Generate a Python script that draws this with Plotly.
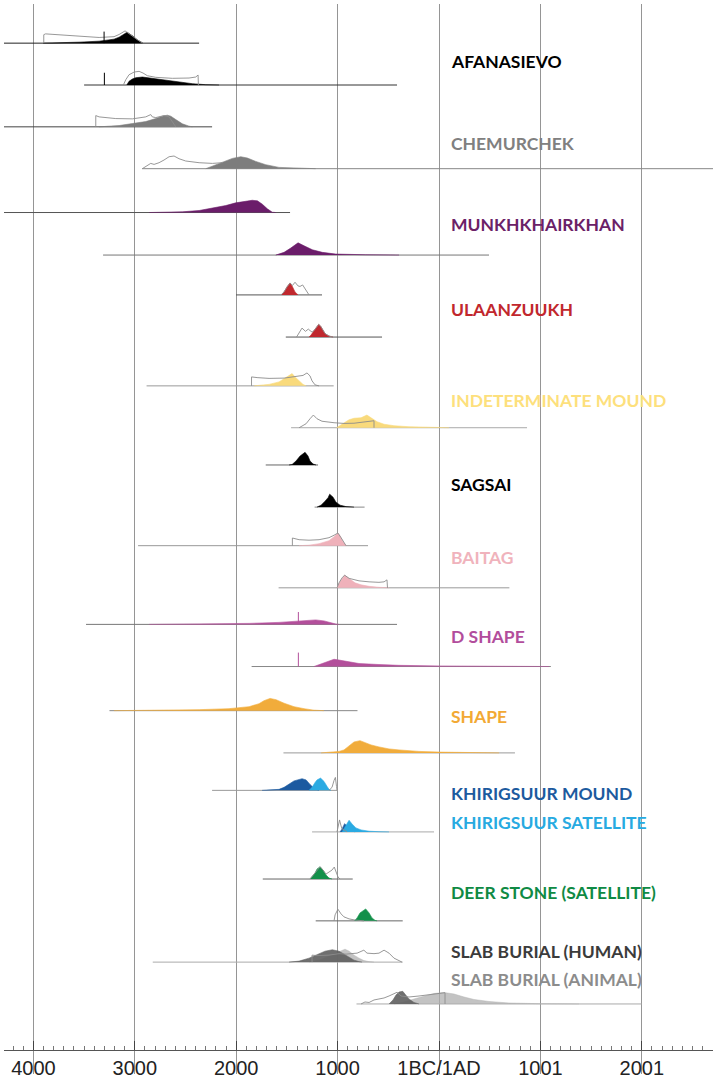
import plotly.graph_objects as go

# ---------------- axis ----------------
TICK_YEARS = [-4000, -3000, -2000, -1000, 0, 1000, 2000]
TICK_LABELS = ["4000", "3000", "2000", "1000", "1BC/1AD", "1001", "2001"]

# ---------------- group labels ----------------
LABELS = ["AFANASIEVO", "CHEMURCHEK", "MUNKHKHAIRKHAN", "ULAANZUUKH",
          "INDETERMINATE MOUND", "SAGSAI", "BAITAG", "D SHAPE", "SHAPE",
          "KHIRIGSUUR MOUND", "KHIRIGSUUR SATELLITE", "DEER STONE (SATELLITE)",
          "SLAB BURIAL (HUMAN)", "SLAB BURIAL (ANIMAL)"]
LABEL_COLORS = ["#000000", "#808080", "#6b2167", "#c1272d", "#fde07c", "#000000",
                "#f0b3bc", "#b24d9c", "#f2a934", "#1c5a9e", "#27aae1", "#0f8a44",
                "#3b3b3b", "#8c8c8c"]

# ---------------- baselines of each boundary row (calendar years, BC negative) ----------------
BASE_FROM = [-4290, -3500, -4290, -2928, -4290, -3313, -2002, -1511, -2884, -1459, -1709, -1227,
             -2968, -1582, -3481, -1848, -3250, -1534, -2238, -1252, -1738, -1216, -2823, -814]
BASE_TO = [-2366, -414, -2238, 2702, -1469, 493, -1154, -562, -1039, 868, -1193, -734,
           -700, 694, -414, 1103, -804, 749, -997, -49, -851, -358, -358, 1998]

# ---------------- probability distributions (year, relative probability) ----------------
# Afanasievo start
AFA1_YR = [-3905, -3747, -3550, -3352, -3254, -3205, -3155, -3116, -3076, -3047, -3017, -2978, -2948, -2919]
AFA1_P = [0, 0.3, 1, 2, 3, 4, 6, 8.5, 11, 9, 7, 3.5, 1.5, 0]
AFA1_PRIOR_YR = [-3898, -3898, -3880, -3648, -3352, -3205, -3155, -3096, -3066, -3047, -3017, -2978, -2948, -2919]
AFA1_PRIOR_P = [0, 8.5, 9.3, 7.5, 5.7, 6.5, 8.7, 12.3, 10, 8.5, 6.5, 3.5, 1.5, 0]
AFA1_SPIKE = [-3303, 11.6]
# Afanasievo end
AFA2_YR = [-3079, -3057, -3024, -2991, -2925, -2827, -2695, -2564, -2432, -2300, -2169]
AFA2_P = [0, 3.7, 6, 7.3, 8, 6.7, 4.7, 2.7, 1.3, 0.3, 0]
AFA2_PRIOR_YR = [-3113, -3089, -3057, -3007, -2958, -2919, -2876, -2793, -2630, -2465, -2399, -2376, -2373]
AFA2_PRIOR_P = [0, 5.3, 10.3, 13, 13.7, 12, 9.3, 7.7, 6.7, 7, 8, 10, 0]
AFA2_SPIKE = [-3300, 12.3]
# Chemurchek start
CHE1_YR = [-3352, -3155, -3024, -2892, -2793, -2728, -2679, -2645, -2596, -2531, -2465, -2432]
CHE1_P = [0, 1.3, 3.3, 5.3, 8.3, 10.7, 11.7, 10.7, 7.3, 3, 0.7, 0]
CHE1_PRIOR_YR = [-3385, -3385, -3352, -3188, -3024, -2892, -2843, -2827, -2793, -2741, -2712, -2662, -2630, -2596]
CHE1_PRIOR_P = [0, 11.3, 10, 8.3, 8, 10, 12.3, 10, 9.3, 10.5, 11.3, 10, 5.7, 0]
# Chemurchek end
CHE2_YR = [-2300, -2235, -2169, -2103, -2038, -1955, -1890, -1807, -1709, -1578, -1380, -1216]
CHE2_P = [0, 2.7, 5.3, 8, 10.3, 12, 10.7, 7.3, 4, 1.3, 0.3, 0]
CHE2_PRIOR_YR = [-2926, -2876, -2843, -2810, -2761, -2712, -2662, -2613, -2564, -2498, -2366, -2235, -2137]
CHE2_PRIOR_P = [0, 2.7, 5.3, 4.3, 6, 8.7, 12, 12.7, 10, 7.7, 6, 5.3, 6]
# Munkhkhairkhan start / end
MUN1_YR = [-2859, -2531, -2366, -2235, -2103, -2005, -1906, -1841, -1791, -1742, -1693, -1644, -1610]
MUN1_P = [0, 0.7, 2, 4.3, 7, 9.7, 11.7, 12.3, 11.7, 8.3, 3.7, 0.3, 0]
MUN2_YR = [-1610, -1528, -1462, -1390, -1331, -1249, -1151, -1019, -723, -394]
MUN2_P = [0, 2.7, 7, 12.3, 9.3, 5.3, 2.7, 1, 0.3, 0]
# Ulaanzuukh start / end
ULA1_YR = [-1558, -1528, -1499, -1469, -1449, -1420, -1390]
ULA1_P = [0, 3, 8, 12, 9, 3, 0]
ULA1_PRIOR_YR = [-1558, -1528, -1499, -1469, -1445, -1420, -1390, -1371, -1345, -1321, -1302, -1282]
ULA1_PRIOR_P = [0, 3, 8, 12, 9.5, 12.7, 9, 8.5, 10, 6, 2, 0]
ULA2_YR = [-1282, -1262, -1232, -1203, -1187, -1168, -1153, -1124, -1085, -1045]
ULA2_P = [0, 2, 6.5, 11, 12.7, 11, 8, 3.5, 1, 0]
ULA2_PRIOR_YR = [-1405, -1380, -1351, -1317, -1289, -1272, -1252, -1232, -1203, -1187, -1168, -1153, -1124, -1085, -1045]
ULA2_PRIOR_P = [0, 4, 9, 5.7, 8, 6.5, 5, 6.5, 11, 12.7, 11, 8, 3.5, 1, 0]
# Indeterminate mound start / end
IND1_YR = [-1824, -1676, -1578, -1509, -1469, -1449, -1420, -1380, -1341, -1311]
IND1_P = [0, 1.5, 4, 8, 11, 12.3, 9, 5, 1.5, 0]
IND1_PRIOR_YR = [-1849, -1849, -1794, -1676, -1528, -1430, -1380, -1341, -1302, -1272, -1252, -1222, -1183]
IND1_PRIOR_P = [0, 9, 8.3, 7.5, 7.8, 9, 10, 10.5, 13, 10, 5, 1, 0]
IND2_YR = [-1011, -937, -887, -838, -769, -711, -670, -611, -542, -444, -296, -99, 99]
IND2_P = [0, 5, 8, 9.5, 10, 12.7, 10, 6, 3.5, 2, 1, 0.5, 0]
IND2_PRIOR_YR = [-1380, -1351, -1311, -1272, -1239, -1203, -1154, -1035, -937, -838, -740, -641, -641]
IND2_PRIOR_P = [0, 2, 4, 9, 12.7, 9, 6.5, 5, 4.3, 4.5, 5.5, 7, 0]
# Sagsai start / end
SAG1_YR = [-1479, -1449, -1410, -1370, -1321, -1292, -1272, -1242, -1213]
SAG1_P = [0, 0.5, 4, 9, 12.7, 9, 4, 1, 0]
SAG2_YR = [-1203, -1163, -1124, -1094, -1078, -1045, -1016, -976, -917, -838]
SAG2_P = [0, 2, 6, 9.5, 13, 10, 5, 2, 0.5, 0]
# Baitag start / end
BAI1_YR = [-1380, -1282, -1183, -1085, -1035, -997, -976, -947, -917]
BAI1_P = [0, 0.5, 2, 5, 9, 12.7, 10, 4, 0]
BAI1_PRIOR_YR = [-1446, -1446, -1380, -1282, -1183, -1085, -1035, -997, -966, -937, -917]
BAI1_PRIOR_P = [0, 7.7, 6, 5.5, 6, 8, 10.5, 12.7, 8, 3, 0]
BAI2_YR = [-1006, -976, -931, -887, -828, -769, -690, -592, -493]
BAI2_P = [0, 6, 12.7, 9, 5, 3, 1.5, 0.5, 0]
BAI2_PRIOR_YR = [-1006, -986, -956, -931, -887, -789, -690, -592, -542, -513, -508]
BAI2_PRIOR_P = [0, 5, 10, 12.7, 9.5, 7, 6, 5.5, 6, 8, 0]
# D shape start / end
DSH1_YR = [-2859, -2366, -1873, -1578, -1380, -1282, -1216, -1134, -1065, -1016, -986]
DSH1_P = [0, 0.3, 1, 2, 3.5, 4.3, 4.5, 3.5, 1.5, 0.3, 0]
DSH1_SPIKE = [-1387, 12.4]
DSH2_YR = [-1233, -1183, -1134, -1085, -1035, -986, -887, -789, -592, -394, 0, 592, 1085]
DSH2_P = [0, 2, 4, 6, 7.3, 6.5, 4.5, 3, 2, 1.2, 0.6, 0.3, 0]
DSH2_SPIKE = [-1387, 14]
# Shape start / end
SHA1_YR = [-3205, -2859, -2366, -2071, -1873, -1775, -1726, -1666, -1607, -1528, -1430, -1331, -1233, -1134]
SHA1_P = [0, 0.3, 1, 2, 4, 7, 10, 12.3, 11, 7.5, 4, 2, 0.5, 0]
SHA2_YR = [-1163, -1085, -986, -937, -887, -838, -779, -730, -670, -592, -493, -394, -197, 0, 296, 592]
SHA2_P = [0, 0.5, 1.5, 3, 7, 11, 12.3, 10.5, 8, 6, 4, 3, 1.5, 0.8, 0.3, 0]
# Khirigsuur mound (dark) and satellite (light), start row
KHM1_YR = [-1745, -1578, -1528, -1479, -1430, -1351, -1311, -1272, -1232, -1183]
KHM1_P = [0, 1, 3, 6, 9.5, 11.7, 10.5, 6, 2, 0]
KHS1_YR = [-1282, -1252, -1222, -1203, -1168, -1134, -1104, -1085, -1065]
KHS1_P = [0, 3, 8, 10.5, 12.3, 9, 4, 1, 0]
KH1_PRIOR_YR = [-1085, -1055, -1035, -1022, -1011, -1006]
KH1_PRIOR_P = [0, 3, 10, 13, 4, 0]
# Khirigsuur end row
KHM2_YR = [-976, -956, -931, -907, -868, -828]
KHM2_P = [0, 3, 8.3, 6, 2, 0]
KHS2_YR = [-956, -927, -907, -887, -858, -819, -769, -690, -592, -493]
KHS2_P = [0, 5, 9, 11.7, 8, 4, 2, 0.7, 0.2, 0]
KH2_PRIOR_YR = [-1006, -991, -981, -966, -956, -937, -907]
KH2_PRIOR_P = [0, 8, 12, 6, 3, 2, 0]
# Deer stone start / end
DEE1_YR = [-1272, -1252, -1222, -1203, -1173, -1144, -1114, -1085, -1055]
DEE1_P = [0, 2, 6, 10, 12.3, 9, 4, 1, 0]
DEE1_PRIOR_YR = [-1272, -1222, -1173, -1144, -1114, -1085, -1055, -1033, -1016, -996, -976]
DEE1_PRIOR_P = [0, 6, 12.3, 9, 5, 7, 9, 12, 8, 2, 0]
DEE2_YR = [-833, -808, -779, -723, -690, -661, -631, -611]
DEE2_P = [0, 3, 8, 12, 8, 3, 0.5, 0]
DEE2_PRIOR_YR = [-1035, -1025, -997, -966, -937, -887, -838, -789, -740]
DEE2_PRIOR_P = [0, 6, 11.7, 7, 4, 2, 1, 0.5, 0]
# Slab burial human (dark) / animal (light), start row
SLH1_YR = [-1479, -1380, -1282, -1232, -1183, -1124, -1052, -986, -937, -887, -838, -789, -759]
SLH1_P = [0, 1, 4, 6, 8, 11, 12.4, 11, 8, 5, 2, 0.5, 0]
SLA1_YR = [-1282, -1183, -1085, -986, -927, -887, -838, -789, -740, -690, -641]
SLA1_P = [0, 2, 6, 10, 13, 11, 7, 4, 1.5, 0.5, 0]
SL1_PRIOR_YR = [-1252, -1252, -1203, -1085, -986, -917, -868, -808, -741, -710, -641, -592, -542, -493, -444, -394, -365]
SL1_PRIOR_P = [0, 7, 6.5, 7, 8.5, 8, 8.5, 9, 12, 9, 8.5, 9, 12, 9, 4, 1, 0]
# Slab burial end row
SLH2_YR = [-493, -454, -424, -394, -358, -325, -296, -247, -197]
SLH2_P = [0, 4, 9, 12, 12.7, 9, 5, 1.5, 0]
SLA2_YR = [-444, -345, -247, -148, -49, 49, 148, 247, 345, 493, 690, 986, 1380]
SLA2_P = [0, 2, 5, 8, 10.5, 11.5, 10, 7, 4.5, 2.5, 1, 0.3, 0]
SL2_PRIOR_YR = [-769, -730, -690, -641, -592, -542, -493, -414, -375, -296, -197, -99, 0, 59, 59]
SL2_PRIOR_P = [0, 2, 1.5, 4, 5, 6, 8, 11.7, 8, 7, 8, 9.5, 10.5, 11.3, 0]

# ---------------- layout constants (vertical positions in layout units = screen px) ----------------
ROW_BASE = [43.3, 85.3, 127.3, 169.3, 213.3, 256, 296, 338.3, 387.3, 429.3, 466.7, 509,
            547.7, 590, 626.7, 669, 713.3, 755.7, 793.3, 835, 882.3, 924.3, 965.7, 1007.7]
LABEL_Y = [61.3, 144.2, 225, 310.7, 401.7, 486, 560, 639.3, 719.3, 796.7, 826, 895.7, 955, 982.7]
Y_TOP, Y_BOTTOM, AXIS_Y = 4, 1078, 1054
X_RANGE = [-4290, 2702]
LABEL_X = 100

BLACK = "#000000"
C_CHE = "#7d7d7d"
C_MUN = "#6b1d6a"
C_ULA = "#c0282e"
C_IND = "#f9da7c"
C_BAI = "#efb1ba"
C_DSH = "#b34f9b"
C_SHA = "#f1ac3b"
C_KHM = "#1c5aa0"
C_KHS = "#2aaae2"
C_DEE = "#13904a"
C_SLH = "rgba(95,95,95,0.9)"
C_SLA = "rgba(175,175,175,0.75)"
PRIOR = "#8c8c8c"

BASE_COLORS = ["#222", "#333", "#444", "#888", "#555", "#777", "#555", "#555", "#999", "#aaa",
               "#666", "#888", "#999", "#999", "#777", "#888", "#888", "#999", "#999", "#aaa",
               "#666", "#666", "#aaa", "#aaa"]

# rows: (row index, fills [(yr, p, color)], priors [(yr, p)], spikes [(yr, h, color)])
ROWS = [
    (0, [(AFA1_YR, AFA1_P, BLACK)], [(AFA1_PRIOR_YR, AFA1_PRIOR_P)], [(AFA1_SPIKE, BLACK)]),
    (1, [(AFA2_YR, AFA2_P, BLACK)], [(AFA2_PRIOR_YR, AFA2_PRIOR_P)], [(AFA2_SPIKE, BLACK)]),
    (2, [(CHE1_YR, CHE1_P, C_CHE)], [(CHE1_PRIOR_YR, CHE1_PRIOR_P)], []),
    (3, [(CHE2_YR, CHE2_P, C_CHE)], [(CHE2_PRIOR_YR, CHE2_PRIOR_P)], []),
    (4, [(MUN1_YR, MUN1_P, C_MUN)], [], []),
    (5, [(MUN2_YR, MUN2_P, C_MUN)], [], []),
    (6, [(ULA1_YR, ULA1_P, C_ULA)], [(ULA1_PRIOR_YR, ULA1_PRIOR_P)], []),
    (7, [(ULA2_YR, ULA2_P, C_ULA)], [(ULA2_PRIOR_YR, ULA2_PRIOR_P)], []),
    (8, [(IND1_YR, IND1_P, C_IND)], [(IND1_PRIOR_YR, IND1_PRIOR_P)], []),
    (9, [(IND2_YR, IND2_P, C_IND)], [(IND2_PRIOR_YR, IND2_PRIOR_P)], []),
    (10, [(SAG1_YR, SAG1_P, BLACK)], [], []),
    (11, [(SAG2_YR, SAG2_P, BLACK)], [], []),
    (12, [(BAI1_YR, BAI1_P, C_BAI)], [(BAI1_PRIOR_YR, BAI1_PRIOR_P)], []),
    (13, [(BAI2_YR, BAI2_P, C_BAI)], [(BAI2_PRIOR_YR, BAI2_PRIOR_P)], []),
    (14, [(DSH1_YR, DSH1_P, C_DSH)], [], [(DSH1_SPIKE, C_DSH)]),
    (15, [(DSH2_YR, DSH2_P, C_DSH)], [], [(DSH2_SPIKE, C_DSH)]),
    (16, [(SHA1_YR, SHA1_P, C_SHA)], [], []),
    (17, [(SHA2_YR, SHA2_P, C_SHA)], [], []),
    (18, [(KHM1_YR, KHM1_P, C_KHM), (KHS1_YR, KHS1_P, C_KHS)], [(KH1_PRIOR_YR, KH1_PRIOR_P)], []),
    (19, [(KHM2_YR, KHM2_P, C_KHM), (KHS2_YR, KHS2_P, C_KHS)], [(KH2_PRIOR_YR, KH2_PRIOR_P)], []),
    (20, [(DEE1_YR, DEE1_P, C_DEE)], [(DEE1_PRIOR_YR, DEE1_PRIOR_P)], []),
    (21, [(DEE2_YR, DEE2_P, C_DEE)], [(DEE2_PRIOR_YR, DEE2_PRIOR_P)], []),
    (22, [(SLA1_YR, SLA1_P, C_SLA), (SLH1_YR, SLH1_P, C_SLH)], [(SL1_PRIOR_YR, SL1_PRIOR_P)], []),
    (23, [(SLA2_YR, SLA2_P, C_SLA), (SLH2_YR, SLH2_P, C_SLH)], [(SL2_PRIOR_YR, SL2_PRIOR_P)], []),
]

fig = go.Figure()

# baselines
for i, base in enumerate(ROW_BASE):
    fig.add_trace(go.Scatter(x=[BASE_FROM[i], BASE_TO[i]], y=[base, base], mode="lines",
                             line=dict(color=BASE_COLORS[i], width=1),
                             hoverinfo="skip", showlegend=False))

for row, fills, priors, spikes in ROWS:
    base = ROW_BASE[row]
    for yr, p, col in fills:
        fig.add_trace(go.Scatter(x=yr, y=[base - v for v in p], mode="lines", fill="toself",
                                 fillcolor=col, line=dict(color=col, width=0.6),
                                 hoverinfo="skip", showlegend=False))
    for yr, p in priors:
        fig.add_trace(go.Scatter(x=yr, y=[base - v for v in p], mode="lines",
                                 line=dict(color=PRIOR, width=0.9),
                                 hoverinfo="skip", showlegend=False))
    for (sx, sh), col in spikes:
        fig.add_trace(go.Scatter(x=[sx, sx], y=[base, base - sh], mode="lines",
                                 line=dict(color=col, width=1),
                                 hoverinfo="skip", showlegend=False))

# trace on the labelled axis so it is drawn
fig.add_trace(go.Scatter(x=[TICK_YEARS[0]], y=[AXIS_Y], xaxis="x2", yaxis="y", mode="markers",
                         marker=dict(size=0.1, opacity=0), hoverinfo="skip", showlegend=False))

for name, col, ly in zip(LABELS, LABEL_COLORS, LABEL_Y):
    fig.add_annotation(x=LABEL_X, y=ly, xref="x", yref="y", text=name, showarrow=False,
                       xanchor="left", yanchor="middle",
                       font=dict(family="Lato", size=17.5, color=col, weight="bold"))

axis_pos = (Y_BOTTOM - AXIS_Y) / (Y_BOTTOM - Y_TOP)

fig.update_layout(
    width=718, height=1083,
    margin=dict(l=4, r=5, t=Y_TOP, b=1083 - Y_BOTTOM),
    paper_bgcolor="white", plot_bgcolor="white",
    xaxis=dict(range=X_RANGE, tickvals=TICK_YEARS, showticklabels=False, ticks="",
               showgrid=True, gridcolor="#959595", gridwidth=1, zeroline=False, showline=False),
    xaxis2=dict(range=X_RANGE, overlaying="x", anchor="free", position=axis_pos, side="bottom",
                tickvals=TICK_YEARS, ticktext=TICK_LABELS, ticks="inside", ticklen=9,
                tickcolor="#444", tickwidth=1, showline=True, linecolor="#555", linewidth=1,
                showgrid=False, zeroline=False,
                tickfont=dict(family="Liberation Sans", size=20, color="#222"),
                minor=dict(ticks="inside", ticklen=4, tickcolor="#777", dtick=100, tick0=0,
                           showgrid=False)),
    yaxis=dict(range=[Y_BOTTOM, Y_TOP], visible=False, showgrid=False, zeroline=False),
)

fig.write_html("out.html", config={"displayModeBar": False},
               post_script="document.body.style.margin='0';document.body.style.padding='0';")
